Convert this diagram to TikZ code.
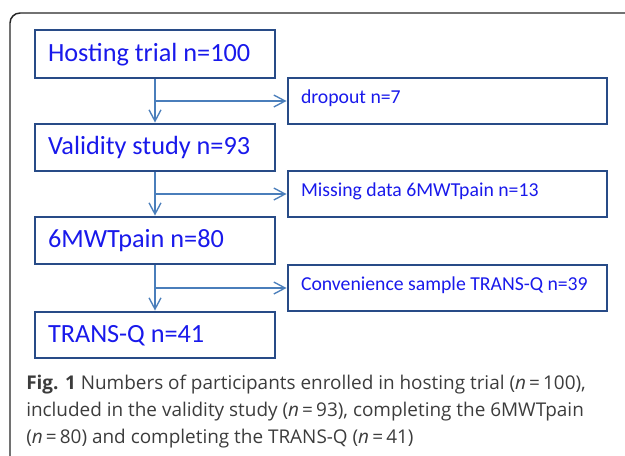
\documentclass[tikz,border=0pt]{standalone}
\usepackage{fontspec}
\setmainfont{Carlito}
\newfontfamily\capfont{Open Sans}
\usetikzlibrary{arrows.meta}
\definecolor{boxline}{RGB}{40,75,135}
\definecolor{boxtext}{RGB}{25,25,235}
\definecolor{flowline}{RGB}{74,126,187}
\definecolor{captext}{RGB}{60,60,60}
\tikzset{
  bigbox/.style={draw=boxline, line width=2.2pt, text=boxtext, font=\fontsize{19.7}{22}\selectfont,
    text width=160.5pt, inner xsep=9.75pt, inner ysep=0pt, align=flush left,
    text height=10.5pt, text depth=0pt},
  smallbox/.style={draw=boxline, line width=2.2pt, text=boxtext, font=\fontsize{14.8}{17}\selectfont,
    text width=219.75pt, inner xsep=9.75pt, inner ysep=0pt, align=flush left,
    text height=10pt, text depth=7pt, minimum height=34.5pt},
  flow/.style={draw=flowline, line width=1pt, -{Straight Barb[length=8.5pt,width=9pt]}},
  capline/.style={anchor=base west, inner sep=0pt, text=captext, font=\capfont\fontsize{14.2}{16}\selectfont},
}
\begin{document}
\begin{tikzpicture}[x=0.75pt, y=-0.75pt]
\useasboundingbox (0,0) rectangle (625,455);
% frame
\draw[line width=1.1pt, black!85, rounded corners=7.5pt] (10,456) -- (10,13) -- (626,13);
% main boxes
\node[bigbox, minimum height=36pt] (h) at (155,54) {Hosting trial n=100};
\node[bigbox, minimum height=35.25pt] (v) at (155,147.5) {Validity study n=93};
\node[bigbox, minimum height=35.25pt] (p) at (155,240.5) {6MWTpain n=80};
\node[bigbox, minimum height=34.5pt] (t) at (155,335) {TRANS-Q n=41};
% side boxes
\node[smallbox] (d) at (447.5,101) {dropout n=7};
\node[smallbox] (m) at (447.5,194) {Missing data 6MWTpain n=13};
\node[smallbox] (c) at (447.5,288) {Convenience sample TRANS-Q n=39};
% connectors
\draw[flow] (h.south) -- (v.north);
\draw[flow] (v.south) -- (p.north);
\draw[flow] (p.south) -- (t.north);
\draw[flow] (h.south |- d.west) -- (d.west);
\draw[flow] (v.south |- m.west) -- (m.west);
\draw[flow] (p.south |- c.west) -- (c.west);
% caption
\node[capline] (cap1) at (26,389) {\textbf{Fig. 1} Numbers of participants enrolled in hosting trial (\textit{n}\,=\,100),};
\node[capline] (cap2) at (26,416) {included in the validity study (\textit{n}\,=\,93), completing the 6MWTpain};
\node[capline] (cap3) at (26,443) {(\textit{n}\,=\,80) and completing the TRANS-Q (\textit{n}\,=\,41)};
\end{tikzpicture}
\end{document}
